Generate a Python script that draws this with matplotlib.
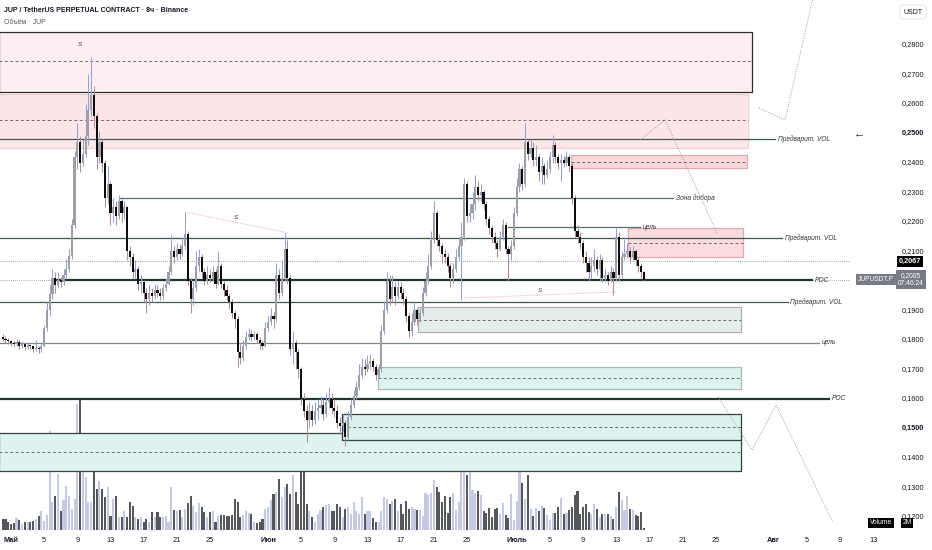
import matplotlib
matplotlib.use("Agg")
import matplotlib.pyplot as plt
import matplotlib.transforms as mtransforms
from matplotlib.patches import Rectangle

plt.rcParams['font.family'] = ['Liberation Sans', 'DejaVu Sans']

# 8h candles, x in days since May 1 (first candle on Apr 30 00:00)
first_day = -1.0
first_open = 0.1810
closes = [
    0.1805, 0.1800, 0.1795, 0.1790, 0.1785, 0.1792, 0.1780, 0.1788, 0.1775, 0.1782, 0.1778, 0.1770,
    0.1772, 0.1768, 0.1780, 0.1840, 0.1900, 0.1955, 0.2010, 0.1985, 0.2005, 0.1995, 0.2020, 0.2040,
    0.2085, 0.2190, 0.2420, 0.2470, 0.2400, 0.2430, 0.2490, 0.2580, 0.2630, 0.2560, 0.2420, 0.2470,
    0.2400, 0.2280, 0.2330, 0.2230, 0.2250, 0.2220, 0.2270, 0.2230, 0.2250, 0.2100, 0.2080, 0.2030,
    0.2040, 0.1990, 0.1995, 0.1960, 0.1940, 0.1960, 0.1950, 0.1970, 0.1960, 0.1950, 0.1975, 0.1990,
    0.2030, 0.2100, 0.2080, 0.2110, 0.2090, 0.2120, 0.2160, 0.2000, 0.1940, 0.1975, 0.2050, 0.2080,
    0.2030, 0.2000, 0.2020, 0.2010, 0.2030, 0.1990, 0.2050, 0.1990, 0.1970, 0.1950, 0.1930, 0.1890,
    0.1870, 0.1760, 0.1740, 0.1780, 0.1810, 0.1820, 0.1810, 0.1820, 0.1800, 0.1790, 0.1780, 0.1840,
    0.1860, 0.1880, 0.1870, 0.2020, 0.1960, 0.2010, 0.2110, 0.2010, 0.1770, 0.1790, 0.1760, 0.1700,
    0.1600, 0.1560, 0.1530, 0.1560, 0.1530, 0.1560, 0.1570, 0.1580, 0.1550, 0.1590, 0.1600, 0.1570,
    0.1560, 0.1520, 0.1510, 0.1520, 0.1470, 0.1540, 0.1580, 0.1610, 0.1640, 0.1680, 0.1710, 0.1700,
    0.1720, 0.1730, 0.1710, 0.1680, 0.1700, 0.1830, 0.1900, 0.2000, 0.1940, 0.1980, 0.1950, 0.1980,
    0.1960, 0.1940, 0.1880, 0.1830, 0.1860, 0.1900, 0.1870, 0.1890, 0.1960, 0.2000, 0.2050, 0.2140,
    0.2230, 0.2140, 0.2120, 0.2090, 0.2080, 0.2050, 0.2010, 0.2040, 0.2080, 0.2120, 0.2150, 0.2330,
    0.2220, 0.2230, 0.2260, 0.2320, 0.2290, 0.2300, 0.2260, 0.2210, 0.2180, 0.2150, 0.2130, 0.2110,
    0.2150, 0.2190, 0.2110, 0.2090, 0.2120, 0.2230, 0.2320, 0.2380, 0.2330, 0.2470, 0.2430, 0.2450,
    0.2410, 0.2420, 0.2370, 0.2390, 0.2360, 0.2380, 0.2420, 0.2460, 0.2420, 0.2400, 0.2410, 0.2400,
    0.2420, 0.2390, 0.2280, 0.2170, 0.2150, 0.2130, 0.2080, 0.2060, 0.2030, 0.2050, 0.2070, 0.2040,
    0.2070, 0.2010, 0.2020, 0.2000, 0.2030, 0.2010, 0.2150, 0.2020, 0.2080, 0.2090, 0.2100, 0.2080,
    0.2100, 0.2070, 0.2050, 0.2030, 0.2005,
]
highs = [
    0.1820, 0.1812, 0.1808, 0.1800, 0.1798, 0.1805, 0.1800, 0.1796, 0.1792, 0.1790, 0.1788, 0.1782,
    0.1800, 0.1780, 0.1790, 0.1850, 0.1930, 0.1985, 0.2040, 0.2030, 0.2030, 0.2015, 0.2040, 0.2075,
    0.2110, 0.2210, 0.2440, 0.2536, 0.2490, 0.2480, 0.2600, 0.2700, 0.2760, 0.2660, 0.2570, 0.2510,
    0.2480, 0.2410, 0.2390, 0.2340, 0.2280, 0.2270, 0.2290, 0.2285, 0.2270, 0.2255, 0.2120, 0.2095,
    0.2070, 0.2050, 0.2020, 0.2005, 0.1975, 0.1985, 0.1975, 0.1990, 0.1985, 0.1975, 0.1990, 0.2010,
    0.2050, 0.2156, 0.2120, 0.2130, 0.2125, 0.2150, 0.2234, 0.2170, 0.2010, 0.2000, 0.2100, 0.2110,
    0.2090, 0.2045, 0.2050, 0.2040, 0.2050, 0.2040, 0.2100, 0.2060, 0.2000, 0.1985, 0.1960, 0.1940,
    0.1900, 0.1880, 0.1790, 0.1800, 0.1830, 0.1840, 0.1835, 0.1830, 0.1828, 0.1810, 0.1800, 0.1860,
    0.1880, 0.1910, 0.1895, 0.2060, 0.2040, 0.2070, 0.2163, 0.2140, 0.2020, 0.1830, 0.1800, 0.1770,
    0.1710, 0.1620, 0.1580, 0.1590, 0.1580, 0.1590, 0.1600, 0.1610, 0.1600, 0.1620, 0.1640, 0.1620,
    0.1600, 0.1580, 0.1540, 0.1550, 0.1530, 0.1560, 0.1600, 0.1630, 0.1660, 0.1720, 0.1740, 0.1735,
    0.1750, 0.1750, 0.1740, 0.1720, 0.1720, 0.1850, 0.1930, 0.2030, 0.2020, 0.2020, 0.1995, 0.2000,
    0.1995, 0.1975, 0.1950, 0.1890, 0.1890, 0.1930, 0.1910, 0.1910, 0.1980, 0.2030, 0.2090, 0.2170,
    0.2270, 0.2240, 0.2160, 0.2130, 0.2110, 0.2095, 0.2060, 0.2060, 0.2110, 0.2150, 0.2200, 0.2350,
    0.2340, 0.2260, 0.2300, 0.2360, 0.2340, 0.2330, 0.2310, 0.2270, 0.2220, 0.2190, 0.2165, 0.2140,
    0.2170, 0.2210, 0.2200, 0.2120, 0.2140, 0.2250, 0.2350, 0.2400, 0.2390, 0.2536, 0.2480, 0.2480,
    0.2470, 0.2460, 0.2430, 0.2420, 0.2400, 0.2410, 0.2440, 0.2495, 0.2470, 0.2430, 0.2430, 0.2425,
    0.2440, 0.2430, 0.2400, 0.2290, 0.2190, 0.2165, 0.2140, 0.2100, 0.2080, 0.2080, 0.2110, 0.2085,
    0.2090, 0.2080, 0.2040, 0.2030, 0.2050, 0.2045, 0.2183, 0.2165, 0.2100, 0.2150, 0.2130, 0.2115,
    0.2120, 0.2110, 0.2080, 0.2060, 0.2035,
]
lows = [
    0.1795, 0.1790, 0.1785, 0.1778, 0.1775, 0.1778, 0.1770, 0.1772, 0.1765, 0.1768, 0.1768, 0.1760,
    0.1762, 0.1755, 0.1760, 0.1775, 0.1830, 0.1880, 0.1940, 0.1960, 0.1975, 0.1980, 0.1985, 0.2010,
    0.2030, 0.2075, 0.2180, 0.2380, 0.2370, 0.2390, 0.2420, 0.2460, 0.2560, 0.2520, 0.2380, 0.2400,
    0.2370, 0.2250, 0.2260, 0.2190, 0.2200, 0.2190, 0.2210, 0.2200, 0.2210, 0.2070, 0.2050, 0.2010,
    0.2010, 0.1970, 0.1960, 0.1930, 0.1890, 0.1920, 0.1930, 0.1940, 0.1945, 0.1935, 0.1940, 0.1965,
    0.1985, 0.2020, 0.2060, 0.2070, 0.2075, 0.2085, 0.2110, 0.1985, 0.1892, 0.1920, 0.1965, 0.2030,
    0.2010, 0.1985, 0.1990, 0.1995, 0.2000, 0.1975, 0.1985, 0.1975, 0.1950, 0.1935, 0.1905, 0.1875,
    0.1840, 0.1710, 0.1720, 0.1730, 0.1770, 0.1800, 0.1795, 0.1800, 0.1790, 0.1770, 0.1765, 0.1775,
    0.1830, 0.1850, 0.1840, 0.1860, 0.1940, 0.1950, 0.2000, 0.1990, 0.1750, 0.1720, 0.1700, 0.1670,
    0.1580, 0.1540, 0.1454, 0.1500, 0.1510, 0.1515, 0.1530, 0.1550, 0.1530, 0.1540, 0.1570, 0.1550,
    0.1540, 0.1500, 0.1480, 0.1490, 0.1440, 0.1460, 0.1530, 0.1570, 0.1600, 0.1630, 0.1670, 0.1680,
    0.1690, 0.1700, 0.1695, 0.1665, 0.1670, 0.1690, 0.1820, 0.1890, 0.1920, 0.1930, 0.1920, 0.1940,
    0.1940, 0.1920, 0.1860, 0.1810, 0.1815, 0.1850, 0.1850, 0.1860, 0.1880, 0.1950, 0.1990, 0.2040,
    0.2130, 0.2120, 0.2100, 0.2060, 0.2060, 0.2030, 0.1980, 0.1990, 0.2030, 0.2070, 0.1936, 0.2140,
    0.2200, 0.2200, 0.2210, 0.2240, 0.2270, 0.2270, 0.2240, 0.2190, 0.2160, 0.2130, 0.2110, 0.2080,
    0.2100, 0.2140, 0.2090, 0.2000, 0.2070, 0.2110, 0.2220, 0.2300, 0.2310, 0.2320, 0.2410, 0.2420,
    0.2390, 0.2390, 0.2340, 0.2330, 0.2330, 0.2350, 0.2370, 0.2400, 0.2400, 0.2380, 0.2340, 0.2385,
    0.2390, 0.2370, 0.2260, 0.2150, 0.2130, 0.2110, 0.2060, 0.2030, 0.2000, 0.2010, 0.2030, 0.2020,
    0.2000, 0.1995, 0.2000, 0.1985, 0.1995, 0.1953, 0.2000, 0.2000, 0.2010, 0.2070, 0.2080, 0.2060,
    0.2070, 0.2050, 0.2030, 0.2010, 0.2000,
]
volumes = [
    11, 11, 8, 6, 7, 12, 10, 6, 8, 8, 8, 9, 11, 14, 19,
    9, 15, 99, 28, 34, 56, 19, 30, 44, 34, 21, 31, 126, 131, 83,
    53, 28, 28, 89, 41, 49, 41, 33, 43, 14, 31, 34, 13, 13, 19,
    13, 28, 24, 13, 11, 13, 8, 11, 8, 18, 13, 18, 13, 13, 14,
    8, 43, 20, 19, 20, 13, 21, 27, 34, 24, 18, 27, 23, 18, 13,
    18, 19, 8, 14, 15, 15, 14, 14, 15, 31, 28, 13, 15, 19, 17,
    16, 8, 7, 8, 11, 21, 23, 30, 36, 38, 51, 33, 43, 46, 36,
    55, 38, 26, 63, 59, 26, 19, 13, 8, 16, 20, 23, 25, 26, 19,
    19, 26, 23, 13, 21, 23, 16, 28, 19, 16, 33, 16, 19, 19, 12,
    8, 8, 19, 33, 31, 26, 29, 31, 19, 26, 16, 29, 21, 23, 21,
    20, 20,
    14, 37, 35, 37, 50, 43, 38, 28, 34, 17,
    33, 37, 20, 28, 62, 68, 55, 77, 40, 37,
    39, 35, 19, 17, 22, 13, 21, 22, 16, 27,
    15, 12, 36, 10, 29, 80, 47, 31, 55, 21,
    14, 22, 19, 24, 22, 15, 10, 17, 17, 23,
    32, 16, 17, 20, 23, 35, 39, 16, 23, 26,
    18, 16, 26, 21, 13, 16, 16, 16, 14, 11,
    23, 38, 30, 20, 34, 21, 20, 15, 14, 18,
    2,
]

price_ticks = [0.28, 0.27, 0.26, 0.25, 0.24, 0.23, 0.22, 0.21, 0.19, 0.18,
               0.17, 0.16, 0.15, 0.14, 0.13, 0.12]
bold_ticks = [0.25, 0.15]
date_days = [0, 4, 8, 12, 16, 20, 24, 31, 35, 39, 43, 47, 51, 55,
             61, 65, 69, 73, 77, 81, 85, 92, 96, 100, 104]
date_labels = ['Май', '5', '9', '13', '17', '21', '25', 'Июн', '5', '9', '13', '17', '21', '25',
               'Июль', '5', '9', '13', '17', '21', '25', 'Авг', '5', '9', '13']
month_labels = ['Май', 'Июн', 'Июль', 'Авг']

# zones: left day, right day, bottom, top, dashed mid
zones = [
    (-1.4, 89.39, 0.2641, 0.2844, 0.2746, '#fdeff1', '#2b2b2b'),
    (-1.4, 88.90, 0.2451, 0.2634, 0.2546, '#fde6e7', '#f0cfd1'),
    (67.55, 88.78, 0.2383, 0.2427, 0.2403, '#f9d8da', '#e3aaae'),
    (74.43, 88.30, 0.2081, 0.2180, 0.2129, '#fadcdf', '#e3aaae'),
    (49.10, 88.06, 0.1827, 0.1911, 0.1868, '#e5eeeb', '#aab3b1'),
    (44.27, 88.06, 0.1634, 0.1709, 0.1671, '#ddf3ef', '#a9b9b6'),
    (-1.4, 88.06, 0.1356, 0.1485, 0.1420, '#dff4f0', '#34423f'),
    (39.93, 88.06, 0.1461, 0.1549, 0.1505, '#dcf2ee', '#34423f'),
]
# levels: price, from day, to day, label, colour, width
levels = [
    (0.2481, -1.4, 92.16, 'Предварит. VOL', '#3b5853', 0.9),
    (0.2282, 13.15, 79.86, 'Зона добора', '#56706b', 0.9),
    (0.2183, 59.95, 75.87, 'цель', '#56706b', 0.9),
    (0.2146, -1.4, 93.00, 'Предварит. VOL', '#3b5853', 0.9),
    (0.2003, 5.55, 96.62, 'POC', '#1d3732', 1.6),
    (0.1928, -1.4, 93.70, 'Предварит. VOL', '#3b5853', 0.9),
    (0.1790, -1.4, 97.47, 'цель', '#7b8886', 0.9),
    (0.1600, -1.4, 98.67, 'POC', '#1d3732', 1.6),
]
s_lines = [([20.99, 33.41], [0.2234, 0.2163]), ([54.64, 73.10], [0.1942, 0.1963])]
s_marks = [(8.32, 0.2800), (27.14, 0.2215), (63.81, 0.1967)]
paths = [
    ([75.87, 78.89, 85.16], [0.2478, 0.2546, 0.2163]),
    ([90.23, 93.37, 96.74], [0.2586, 0.2546, 0.2960]),
    ([85.28, 89.39, 92.28, 99.16], [0.1607, 0.1427, 0.1580, 0.1180]),
]

fig = plt.figure(figsize=(9.32, 5.5), dpi=100)
rect = [0, 20 / 550, 850 / 932, 530 / 550]
xlim = (-1.327, 101.2)
ylim = (0.11559, 0.29525)

vax = fig.add_axes(rect)
ax = fig.add_axes(rect)
ax.patch.set_alpha(0)
for a in (ax, vax):
    a.set_xlim(*xlim)
    a.set_xticks([])
    a.set_yticks([])
    for s in a.spines.values():
        s.set_visible(False)
ax.set_ylim(*ylim)
vax.set_ylim(0, 530)

n = len(closes)
days = [first_day + i / 3 for i in range(n)]
opens = [first_open] + closes[:-1]
up = [c >= o for o, c in zip(opens, closes)]

# volume
vax.bar(days, volumes, width=0.25, color=['#c5c9e8' if u else '#55575b' for u in up], lw=0)

# zones
for x0, x1, b, t, m, fc, ec in zones:
    ax.add_patch(Rectangle((x0, b), x1 - x0, t - b, facecolor=fc, edgecolor=ec, lw=0.9, zorder=1))
    ax.plot([x0, x1], [m, m], ls=(0, (3, 2.5)), color='#6e6e6e', lw=0.7, zorder=2)

# levels
for p, x0, x1, lab, col, lw in levels:
    ax.plot([x0, x1], [p, p], color=col, lw=lw, zorder=3)
    ax.text(x1 + 0.3, p, lab, fontsize=4.8, style='italic', color='#333333',
            va='center', ha='left', zorder=6)

ax.axhline(0.2067, color='#8a8a8a', lw=0.6, ls=(0, (1, 1.5)), zorder=2)
ax.axhline(0.2005, color='#8a8a8a', lw=0.6, ls=(0, (1, 1.5)), zorder=2)

# candles
ax.vlines(days, lows, highs, colors=['#94a1d6' if u else '#b08f92' for u in up], lw=0.75, zorder=4)
bottoms = [min(o, c) for o, c in zip(opens, closes)]
heights = [max(abs(c - o), 0.0004) for o, c in zip(opens, closes)]
ax.bar(days, heights, bottom=bottoms, width=0.26,
       color=['#9d9fa4' if u else '#0d0d0d' for u in up], lw=0, zorder=5)

# markup
for xs, ys in s_lines:
    ax.plot(xs, ys, color='#d9a3a6', lw=0.7, ls=(0, (1, 1.5)), zorder=6)
for x, y in s_marks:
    ax.text(x, y, 'S', fontsize=4.5, style='italic', color='#333333', ha='center', va='center', zorder=6)
for xs, ys in paths:
    ax.plot(xs, ys, color='#9a9a9a', lw=0.7, ls=(0, (1, 1.5)), zorder=6, clip_on=True)

# price axis
ty = mtransforms.blended_transform_factory(ax.transAxes, ax.transData)
for p in price_ticks:
    ax.text(913 / 850, p, f'{p:.4f}'.replace('.', ','), transform=ty, fontsize=5.3,
            ha='center', va='center', color='#131722',
            fontweight='bold' if p in bold_ticks else 'normal', clip_on=False)
ax.text(859 / 850, 0.2500, '←', transform=ty, fontsize=8, ha='center', va='center',
        color='#131722', fontweight='bold', clip_on=False)
ax.text(910 / 850, 0.2067, '0,2067', transform=ty, fontsize=5.3, ha='center', va='center',
        color='white', fontweight='bold', clip_on=False, zorder=8,
        bbox=dict(boxstyle='square,pad=0.25', fc='#000000', ec='none'))
ax.text(876 / 850, 0.2005, 'JUPUSDT.P', transform=ty, fontsize=4.8, ha='center', va='center',
        color='white', clip_on=False, zorder=8,
        bbox=dict(boxstyle='square,pad=0.3', fc='#787b86', ec='none'))
ax.text(911 / 850, 0.2005, '0,2005\n07:46:24', transform=ty, fontsize=4.8, ha='center', va='center',
        color='white', linespacing=1.1, clip_on=False, zorder=8,
        bbox=dict(boxstyle='square,pad=0.3', fc='#787b86', ec='none'))
ax.text(881 / 850, 0.1180, 'Volume', transform=ty, fontsize=4.8, ha='center', va='center',
        color='white', clip_on=False, zorder=8,
        bbox=dict(boxstyle='square,pad=0.25', fc='#000000', ec='none'))
ax.text(907 / 850, 0.1180, '2M', transform=ty, fontsize=4.8, ha='center', va='center',
        color='white', clip_on=False, zorder=8,
        bbox=dict(boxstyle='square,pad=0.25', fc='#000000', ec='none'))
fig.text(913 / 932, 1 - 12 / 550, 'USDT', fontsize=5, ha='center', va='center', color='#131722',
         bbox=dict(boxstyle='round,pad=0.5', fc='white', ec='#e0e3eb', lw=0.6))

# date axis
tx = mtransforms.blended_transform_factory(ax.transData, ax.transAxes)
for d, lab in zip(date_days, date_labels):
    ax.text(d, -11 / 530, lab, transform=tx, fontsize=5.3, ha='center', va='center', color='#131722',
            fontweight='bold' if lab in month_labels else 'normal', clip_on=False)

# header
fig.text(4 / 932, 1 - 11 / 550, 'JUP / TetherUS PERPETUAL CONTRACT · 8ч · Binance', fontsize=5.0,
         fontweight='bold', color='#131722', ha='left', va='center')
fig.text(4 / 932, 1 - 23 / 550, 'Объём · JUP', fontsize=5.0, color='#555555', ha='left', va='center')

fig.savefig('out.png', dpi=100, facecolor='white')
